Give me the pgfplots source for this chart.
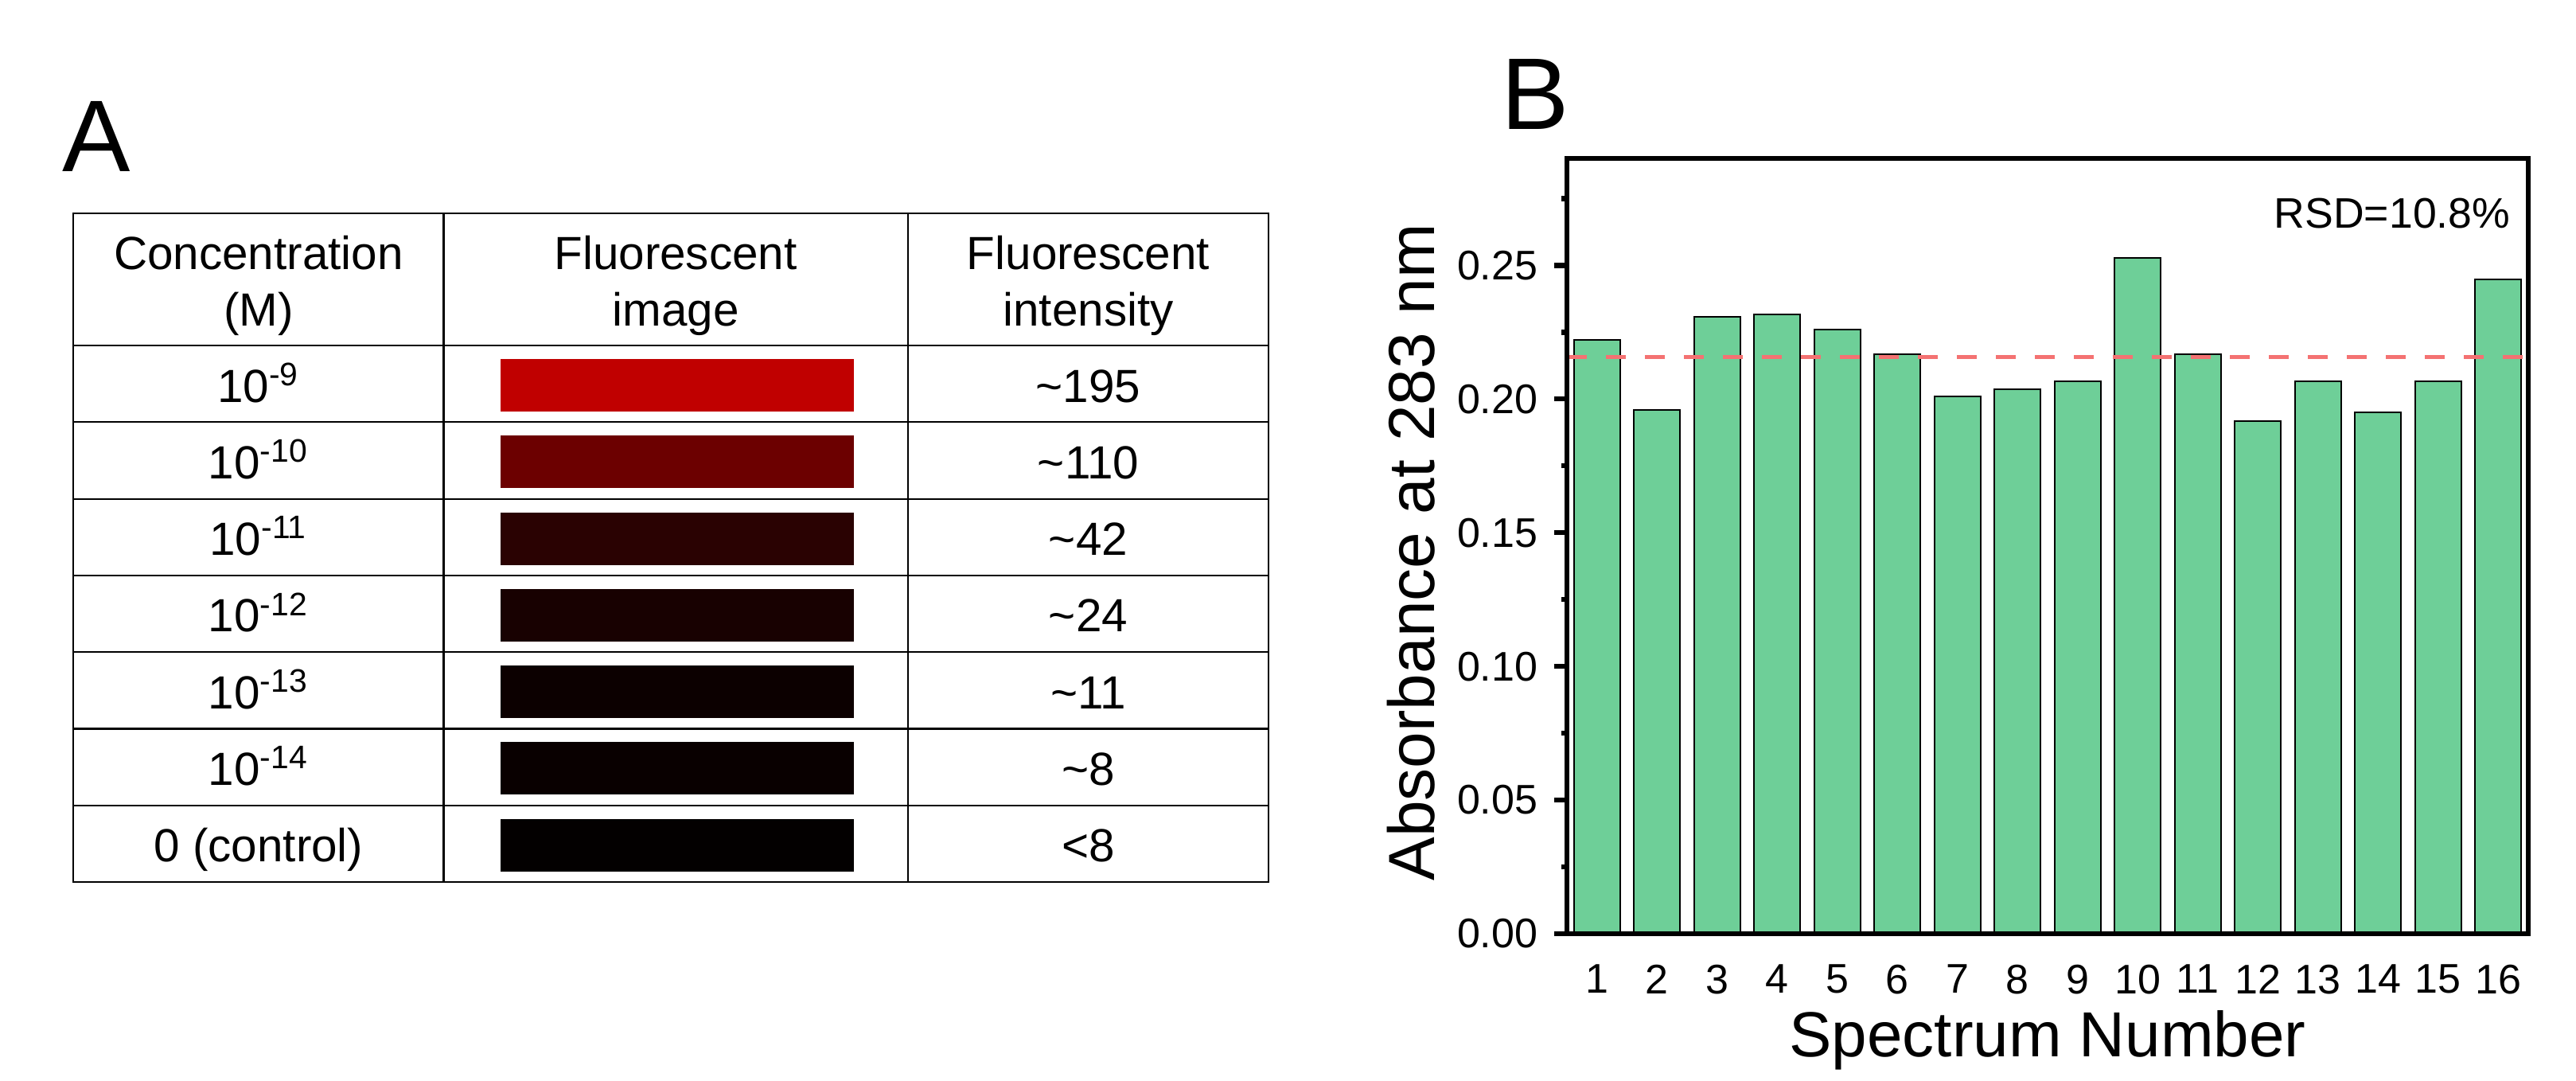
\documentclass[border=0pt]{standalone}
\usepackage{fontspec}
\setmainfont{Liberation Sans}
\usepackage{pgfplots}
\usepackage{pgfplotstable}
\pgfplotsset{compat=1.18}
\definecolor{barg}{RGB}{110,207,152}
\definecolor{meanred}{RGB}{244,114,114}
\definecolor{rA}{RGB}{192,0,0}
\definecolor{rB}{RGB}{108,0,0}
\definecolor{rC}{RGB}{42,2,2}
\definecolor{rD}{RGB}{24,1,1}
\definecolor{rE}{RGB}{12,0,0}
\definecolor{rF}{RGB}{9,0,0}
\definecolor{rG}{RGB}{3,0,0}

\pgfplotstableread{
n val
1 0.2220
2 0.1960
3 0.2308
4 0.2315
5 0.2260
6 0.2168
7 0.2010
8 0.2036
9 0.2066
10 0.2528
11 0.2168
12 0.1917
13 0.2066
14 0.1950
15 0.2066
16 0.2446
}\absdata

\begin{document}
\begin{tikzpicture}
\path[use as bounding box] (0pt,0pt) rectangle (809.25pt,-339.5pt);

% ---------------- Panel A (table) ----------------
\begin{axis}[
  at={(0pt,0pt)}, anchor=north west,
  scale only axis, width=400pt, height=339.5pt,
  xmin=0, xmax=1600, ymin=0, ymax=1358, y dir=reverse,
  hide axis, clip=false,
]
\addplot[fill=rA, draw=none] coordinates {(628.5,451) (1073,451) (1073,517) (628.5,517)};
\addplot[fill=rB, draw=none] coordinates {(628.5,547.3) (1073,547.3) (1073,613.3) (628.5,613.3)};
\addplot[fill=rC, draw=none] coordinates {(628.5,643.6) (1073,643.6) (1073,709.6) (628.5,709.6)};
\addplot[fill=rD, draw=none] coordinates {(628.5,739.9) (1073,739.9) (1073,805.9) (628.5,805.9)};
\addplot[fill=rE, draw=none] coordinates {(628.5,836.1) (1073,836.1) (1073,902.1) (628.5,902.1)};
\addplot[fill=rF, draw=none] coordinates {(628.5,932.4) (1073,932.4) (1073,998.4) (628.5,998.4)};
\addplot[fill=rG, draw=none] coordinates {(628.5,1028.7) (1073,1028.7) (1073,1094.7) (628.5,1094.7)};

\draw[line width=0.55pt] (axis cs:92,268) rectangle (axis cs:1594,1108);
\draw[line width=0.55pt] (axis cs:557.5,268) -- (axis cs:557.5,1108);
\draw[line width=0.55pt] (axis cs:1141,268) -- (axis cs:1141,1108);
\draw[line width=0.55pt] (axis cs:92,434) -- (axis cs:1594,434);
\draw[line width=0.55pt] (axis cs:92,530.3) -- (axis cs:1594,530.3);
\draw[line width=0.55pt] (axis cs:92,626.6) -- (axis cs:1594,626.6);
\draw[line width=0.55pt] (axis cs:92,722.9) -- (axis cs:1594,722.9);
\draw[line width=0.55pt] (axis cs:92,819.1) -- (axis cs:1594,819.1);
\draw[line width=0.55pt] (axis cs:92,915.4) -- (axis cs:1594,915.4);
\draw[line width=0.55pt] (axis cs:92,1011.7) -- (axis cs:1594,1011.7);

\node[anchor=base west, inner sep=0pt, font=\fontsize{32}{38}\selectfont] at (axis cs:78,215) {A};

\begin{scope}[every node/.style={anchor=base, inner sep=0pt, font=\fontsize{14.6}{17}\selectfont}]
\node at (axis cs:325,338) {Concentration};
\node at (axis cs:325,409) {(M)};
\node at (axis cs:849,338) {Fluorescent};
\node at (axis cs:849,409) {image};
\node at (axis cs:1367.5,338) {Fluorescent};
\node at (axis cs:1367.5,409) {intensity};
\node at (axis cs:325,505) {10\textsuperscript{-9}};
\node at (axis cs:325,601.3) {10\textsuperscript{-10}};
\node at (axis cs:325,697.6) {10\textsuperscript{-11}};
\node at (axis cs:325,793.9) {10\textsuperscript{-12}};
\node at (axis cs:325,890.1) {10\textsuperscript{-13}};
\node at (axis cs:325,986.4) {10\textsuperscript{-14}};
\node at (axis cs:325,1082.7) {0 (control)};
\node at (axis cs:1367.5,505) {\textasciitilde195};
\node at (axis cs:1367.5,601.3) {\textasciitilde110};
\node at (axis cs:1367.5,697.6) {\textasciitilde42};
\node at (axis cs:1367.5,793.9) {\textasciitilde24};
\node at (axis cs:1367.5,890.1) {\textasciitilde11};
\node at (axis cs:1367.5,986.4) {\textasciitilde8};
\node at (axis cs:1367.5,1082.7) {<8};
\end{scope}
\end{axis}

% ---------------- Panel B (bar chart) ----------------
\begin{axis}[
  at={(492.25pt,-293.25pt)}, anchor=south west,
  scale only axis, width=302pt, height=243.5pt,
  xmin=0.5, xmax=16.5, ymin=0, ymax=0.29,
  axis on top, clip=false,
  axis line style={line width=1.6pt},
  xtick={1,2,3,4,5,6,7,8,9,10,11,12,13,14,15,16},
  xtick style={draw=none},
  ytick={0,0.05,0.1,0.15,0.2,0.25},
  minor ytick={0.025,0.075,0.125,0.175,0.225,0.275},
  ytick pos=left, tick align=outside,
  major tick length=4pt, minor tick length=1.8pt,
  every tick/.append style={line width=1.6pt, black},
  /pgf/number format/assume math mode=true,
  tick label style={font=\fontsize{13}{15}\selectfont},
  yticklabel style={/pgf/number format/fixed, /pgf/number format/fixed zerofill, /pgf/number format/precision=2, anchor=east, inner sep=0pt, xshift=-5pt},
  xticklabel style={anchor=north, inner sep=0pt, yshift=-5.5pt},
  xlabel={Spectrum Number},
  xlabel style={at={(axis description cs:0.5,-0.1591)}, anchor=base, inner sep=0pt, font=\fontsize{20}{24}\selectfont},
  ylabel={Absorbance at 283 nm},
  ylabel style={at={(axis description cs:-0.1382,0.492)}, anchor=base, inner sep=0pt, font=\fontsize{20.5}{24}\selectfont},
]
\addplot[ybar, bar width=0.77, fill=barg, draw=black, line width=0.5pt] table[x=n, y=val] {\absdata};
\addplot[meanred, line width=1.2pt, dash pattern=on 6.25pt off 6pt, sharp plot, mark=none] coordinates {(0.5,0.2156) (16.5,0.2156)};
\node[anchor=base east, inner sep=0pt, font=\fontsize{13.4}{16}\selectfont] at (axis description cs:0.9818,0.9097) {RSD=10.8\%};
\node[anchor=base west, inner sep=0pt, font=\fontsize{32}{38}\selectfont] at (axis description cs:-0.0687,1.037) {B};
\end{axis}
\end{tikzpicture}
\end{document}
